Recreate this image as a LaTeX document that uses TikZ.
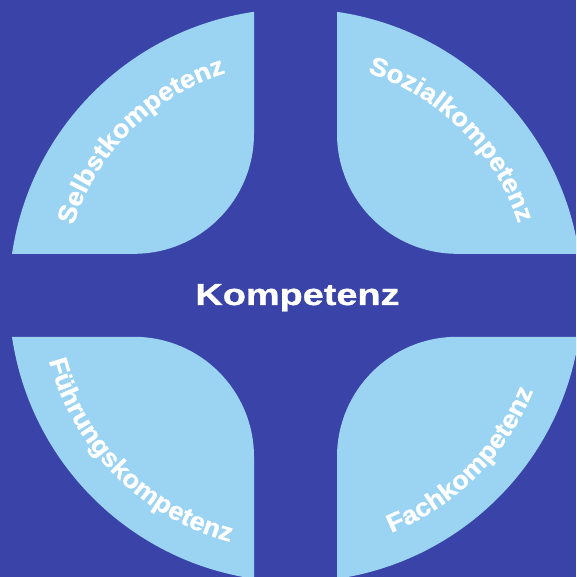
\documentclass[tikz,border=0pt]{standalone}
\usepackage{fontspec}
\usepackage{xcolor}
\usetikzlibrary{decorations.text}

\newfontfamily\widesans{Liberation Sans}[FakeStretch=1.25,FakeBold=1]
\newfontfamily\ringsans{Liberation Sans}[FakeStretch=1.07,FakeBold=1]
\newcommand{\ringfont}{\ringsans\bfseries\fontsize{25.5}{25.5}\selectfont}

\definecolor{kompblue}{RGB}{58,67,168}
\definecolor{leafblue}{RGB}{155,211,242}

\tikzset{
  leaf/.style={fill=leafblue},
  ringtext/.style={decorate, decoration={text along path, text align=center,
      text color=white, text={|\ringfont|#1}}}
}

\begin{document}
\begin{tikzpicture}[x=1pt,y=1pt]
\clip (-295.5,-281.7) rectangle (280.5,295.3);
\fill[kompblue] (-295.5,-281.7) rectangle (280.5,295.3);
% one leaf per quadrant
\foreach \a in {0,90,180,270}
  \fill[leaf, rotate=\a] (41.5,283.5) -- (41.5,161.5)
    arc[start angle=180, end angle=270, radius=120] -- (283.5,41.5)
    arc[start angle=8.33, end angle=81.67, radius=286.5] -- cycle;
% labels along the rim
\path[ringtext=Selbstkompetenz] (175:233) arc[start angle=175, end angle=95, radius=233];
\path[ringtext=Sozialkompetenz] (85:234) arc[start angle=85, end angle=5, radius=234];
\path[ringtext=Führungskompetenz] (180:255) arc[start angle=180, end angle=270, radius=255];
\path[ringtext=Fachkompetenz] (270:256) arc[start angle=270, end angle=360, radius=256];
\node[text=white, font=\widesans\bfseries\fontsize{30.3}{36}\selectfont, anchor=base]
  (kompetenz) at (2,-9.7) {Kompetenz};
\end{tikzpicture}
\end{document}
